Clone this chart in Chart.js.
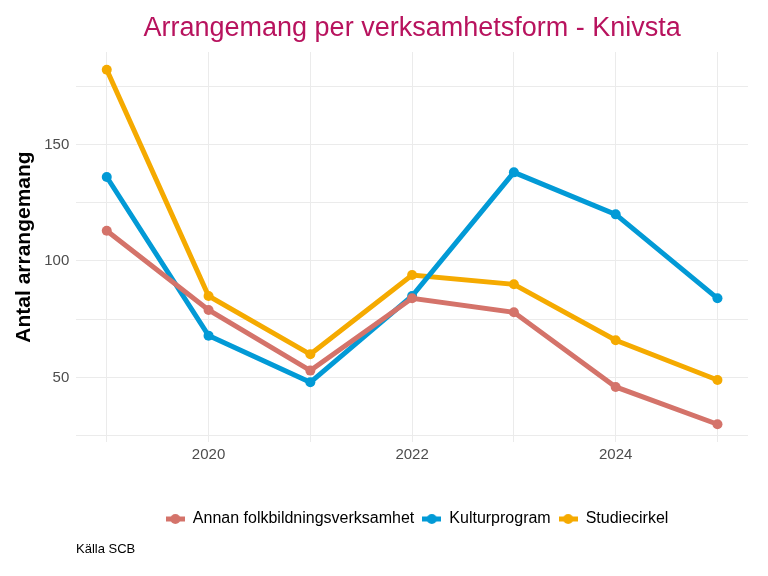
<!DOCTYPE html>
<html>
<head>
<meta charset="utf-8">
<script src="https://cdn.jsdelivr.net/npm/chart.js@4.4.0/dist/chart.umd.min.js"></script>
<style>
  body { margin: 0; background: #fff; }
  #wrap { width: 768px; height: 576px; }
</style>
</head>
<body>
<div id="wrap"><canvas id="chart" width="768" height="576"></canvas></div>
<script>
const years = [2019, 2020, 2021, 2022, 2023, 2024, 2025];
const seriesNames = ['Annan folkbildningsverksamhet', 'Kulturprogram', 'Studiecirkel'];
const annan = [113, 79, 53, 84, 78, 46, 30];
const kultur = [136, 68, 48, 85, 138, 120, 84];
const studie = [182, 85, 60, 94, 90, 66, 49];
const yTicks = [25, 50, 75, 100, 125, 150, 175];
const yLabels = [50, 100, 150];
const xLabels = [2020, 2022, 2024];
const colors = ['#d4736a', '#029ad6', '#f5aa00'];

const FONT = '"Liberation Sans", Arial, sans-serif';

function toPoints(vals) {
  return years.map((y, i) => ({ x: y, y: vals[i] }));
}

// little line+dot marker for the legend, like ggplot
function legendMarker(color) {
  const c = document.createElement('canvas');
  c.width = 19; c.height = 12;
  const g = c.getContext('2d');
  g.strokeStyle = color;
  g.lineWidth = 5;
  g.beginPath(); g.moveTo(0, 6); g.lineTo(19, 6); g.stroke();
  g.fillStyle = color;
  g.beginPath(); g.arc(9.5, 6, 5, 0, Math.PI * 2); g.fill();
  return c;
}

const textPlugin = {
  id: 'texts',
  afterLayout(chart) {
    // centre the legend under the panel, as ggplot does
    const lg = chart.legend, area = chart.chartArea;
    const shift = (area.left + area.right) / 2 + 5 - (lg.left + lg.right) / 2;
    lg.left += shift; lg.right += shift;
  },
  afterDraw(chart) {
    const ctx = chart.ctx;
    const area = chart.chartArea;
    ctx.save();
    ctx.fillStyle = '#b8135e';
    ctx.font = '27px ' + FONT;
    ctx.textAlign = 'center';
    ctx.textBaseline = 'middle';
    ctx.fillText('Arrangemang per verksamhetsform - Knivsta', (area.left + area.right) / 2, 29);
    ctx.fillStyle = '#000';
    ctx.font = '13px ' + FONT;
    ctx.textAlign = 'left';
    ctx.fillText('Källa SCB', 76, 549);
    ctx.restore();
  }
};

const ctx = document.getElementById('chart').getContext('2d');
const chart = new Chart(ctx, {
  type: 'line',
  data: {
    datasets: [annan, kultur, studie].map((vals, i) => ({
      label: seriesNames[i],
      data: toPoints(vals),
      borderColor: colors[i],
      backgroundColor: colors[i],
      borderWidth: 5,
      pointRadius: 5,
      pointBorderWidth: 0,
      pointHoverRadius: 5,
      tension: 0
    }))
  },
  options: {
    responsive: false,
    animation: false,
    layout: { padding: { top: 52, right: 20, bottom: 39, left: 12 } },
    plugins: {
      title: { display: false },
      tooltip: { enabled: false },
      legend: {
        position: 'bottom',
        labels: {
          usePointStyle: true,
          pointStyleWidth: 19,
          font: { size: 16, family: FONT },
          color: '#000',
          padding: 8,
          boxWidth: 19,
          boxHeight: 12,
          generateLabels(chart) {
            return chart.data.datasets.map((ds, i) => ({
              text: ds.label,
              pointStyle: legendMarker(colors[i]),
              fillStyle: colors[i],
              strokeStyle: colors[i],
              lineWidth: 0,
              datasetIndex: i,
              hidden: false
            }));
          }
        }
      }
    },
    scales: {
      x: {
        type: 'linear',
        min: 2018.7,
        max: 2025.3,
        afterBuildTicks(axis) { axis.ticks = years.map(v => ({ value: v })); },
        afterFit(axis) { axis.height += 35; },
        ticks: {
          autoSkip: false,
          maxRotation: 0,
          color: '#4d4d4d',
          padding: 4,
          font: { size: 15, family: FONT },
          callback: v => xLabels.includes(v) ? String(v) : ''
        },
        grid: { color: '#ebebeb', lineWidth: 1, drawTicks: false },
        border: { display: false }
      },
      y: {
        min: 22.4,
        max: 189.6,
        afterBuildTicks(axis) { axis.ticks = yTicks.map(v => ({ value: v })); },
        title: {
          display: true,
          text: 'Antal arrangemang',
          color: '#000',
          font: { size: 21, weight: 'bold', family: FONT },
          padding: { top: 0, bottom: 0 }
        },
        ticks: {
          autoSkip: false,
          color: '#4d4d4d',
          padding: 7,
          font: { size: 15, family: FONT },
          callback: v => yLabels.includes(v) ? String(v) : ''
        },
        grid: { color: '#ebebeb', lineWidth: 1, drawTicks: false },
        border: { display: false }
      }
    }
  },
  plugins: [textPlugin]
});
</script>
</body>
</html>
